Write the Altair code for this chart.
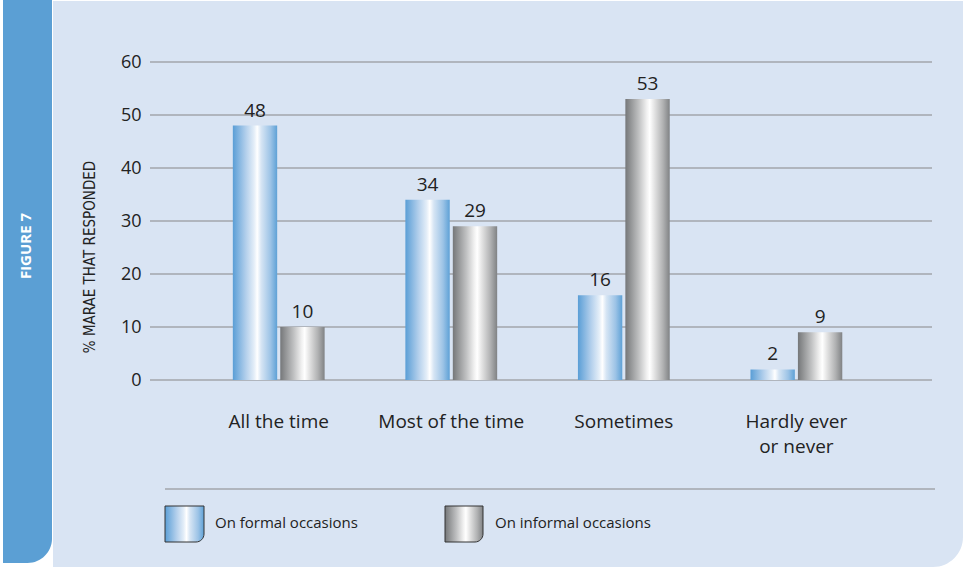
import altair as alt
import pandas as pd

# Survey responses (% of marae), grouped by frequency
categories = ["All the time", "Most of the time", "Sometimes", "Hardly ever\nor never"]
series_names = ["On formal occasions", "On informal occasions"]
formal = [48, 34, 16, 2]
informal = [10, 29, 53, 9]
y_ticks = [0, 10, 20, 30, 40, 50, 60]

W, H = 782, 318
FONT = "Open Sans"
TXT = "#222222"
GRID = "#a2a6ab"
PANEL = "#d9e4f3"
STRIP = "#5b9fd4"

rows = []
for c, f, i in zip(categories, formal, informal):
    rows.append({"category": c, "series": series_names[0], "value": f})
    rows.append({"category": c, "series": series_names[1], "value": i})
df = pd.DataFrame(rows)
cat_df = pd.DataFrame({"category": categories})
tick_df = pd.DataFrame({"value": y_ticks})
one = pd.DataFrame({"k": [0]})

blue_grad = alt.LinearGradient(
    gradient="linear", x1=0, x2=1, y1=0, y2=0,
    stops=[
        alt.GradientStop(color="#5a9ed6", offset=0),
        alt.GradientStop(color="#b4d0ec", offset=0.3),
        alt.GradientStop(color="#e4eef8", offset=0.48),
        alt.GradientStop(color="#ffffff", offset=0.55),
        alt.GradientStop(color="#d6e5f4", offset=0.64),
        alt.GradientStop(color="#9cc3e6", offset=0.85),
        alt.GradientStop(color="#5ea1d6", offset=1),
    ],
)
grey_grad = alt.LinearGradient(
    gradient="linear", x1=0, x2=1, y1=0, y2=0,
    stops=[
        alt.GradientStop(color="#757779", offset=0),
        alt.GradientStop(color="#bfc0c1", offset=0.3),
        alt.GradientStop(color="#f0f0f0", offset=0.48),
        alt.GradientStop(color="#ffffff", offset=0.55),
        alt.GradientStop(color="#e2e2e2", offset=0.66),
        alt.GradientStop(color="#b0b1b2", offset=0.85),
        alt.GradientStop(color="#808284", offset=1),
    ],
)

x_scale = alt.Scale(domain=categories, paddingInner=0.468, paddingOuter=0.5, align=0.48)
xo_scale = alt.Scale(domain=series_names, paddingInner=0.065)
y_scale = alt.Scale(domain=[0, 60], nice=False)
y_axis = alt.Axis(
    values=y_ticks, grid=False, domain=False, ticks=False, title=None,
    labelFont=FONT, labelFontSize=18, labelColor=TXT, labelPadding=9,
    zindex=2,
)
y_enc = alt.Y("value:Q", scale=y_scale, axis=y_axis)

# Page furniture: light panel and the left figure strip
panel = alt.Chart(one).mark_rect(color=PANEL, cornerRadiusBottomRight=30).encode(
    x=alt.value(-97), x2=alt.value(813), y=alt.value(-61), y2=alt.value(505)
)
strip = alt.Chart(one).mark_rect(color=STRIP, cornerRadiusBottomRight=27).encode(
    x=alt.value(-147), x2=alt.value(-98), y=alt.value(-62), y2=alt.value(501)
)
fig_label = alt.Chart(one).mark_text(
    text="FIGURE 7", angle=270, color="white", font=FONT, fontSize=15,
    fontWeight="bold", align="center", baseline="middle"
).encode(x=alt.value(-124), y=alt.value(184))

grid = alt.Chart(tick_df).mark_rule(color=GRID, strokeWidth=1.5).encode(
    y=y_enc, x=alt.value(0), x2=alt.value(W),
)

def bars(name, grad):
    return alt.Chart(df).transform_filter(alt.datum.series == name).mark_bar(
        fill=grad
    ).encode(
        x=alt.X("category:N", scale=x_scale, axis=None),
        xOffset=alt.XOffset("series:N", scale=xo_scale),
        y=y_enc,
    )

value_labels = alt.Chart(df).mark_text(
    font=FONT, fontSize=19, color=TXT, baseline="bottom", dy=-5
).encode(
    x=alt.X("category:N", scale=x_scale, axis=None),
    xOffset=alt.XOffset("series:N", scale=xo_scale),
    y=y_enc,
    text=alt.Text("value:Q"),
)

cat_labels = alt.Chart(cat_df).mark_text(
    font=FONT, fontSize=19, color=TXT, baseline="top", lineBreak="\n",
    lineHeight=25
).encode(
    x=alt.X("category:N", scale=x_scale, axis=None),
    y=alt.value(351),
    text="category:N",
)

y_title = alt.Chart(one).mark_text(
    text="% MARAE THAT RESPONDED", angle=270, color=TXT,
    font="DejaVu Sans Condensed, Roboto", fontSize=15, align="center", baseline="middle"
).encode(x=alt.value(-60), y=alt.value(195))

# Legend
legend_line = alt.Chart(one).mark_rule(color=GRID, strokeWidth=1.5).encode(
    x=alt.value(15), x2=alt.value(785), y=alt.value(427)
)
box_formal = alt.Chart(one).mark_rect(
    fill=blue_grad, stroke="#333333", strokeWidth=1, cornerRadiusBottomRight=8
).encode(x=alt.value(15), x2=alt.value(54), y=alt.value(444), y2=alt.value(480))
box_informal = alt.Chart(one).mark_rect(
    fill=grey_grad, stroke="#333333", strokeWidth=1, cornerRadiusBottomRight=8
).encode(x=alt.value(295), x2=alt.value(333), y=alt.value(444), y2=alt.value(480))
text_formal = alt.Chart(one).mark_text(
    text=series_names[0], font=FONT, fontSize=15, color=TXT, align="left", baseline="middle"
).encode(x=alt.value(65), y=alt.value(461))
text_informal = alt.Chart(one).mark_text(
    text=series_names[1], font=FONT, fontSize=15, color=TXT, align="left", baseline="middle"
).encode(x=alt.value(345), y=alt.value(461))

chart = alt.layer(
    panel, strip, fig_label, grid,
    bars(series_names[0], blue_grad), bars(series_names[1], grey_grad),
    value_labels, cat_labels, y_title,
    legend_line, box_formal, box_informal, text_formal, text_informal,
).properties(
    width=W, height=H,
    padding={"left": 150, "top": 62, "right": 31, "bottom": 187},
    autosize=alt.AutoSizeParams(type="none"),
    background="white",
).configure_view(stroke=None)

chart.save("out.html", embed_options={"renderer": "svg", "actions": False})
